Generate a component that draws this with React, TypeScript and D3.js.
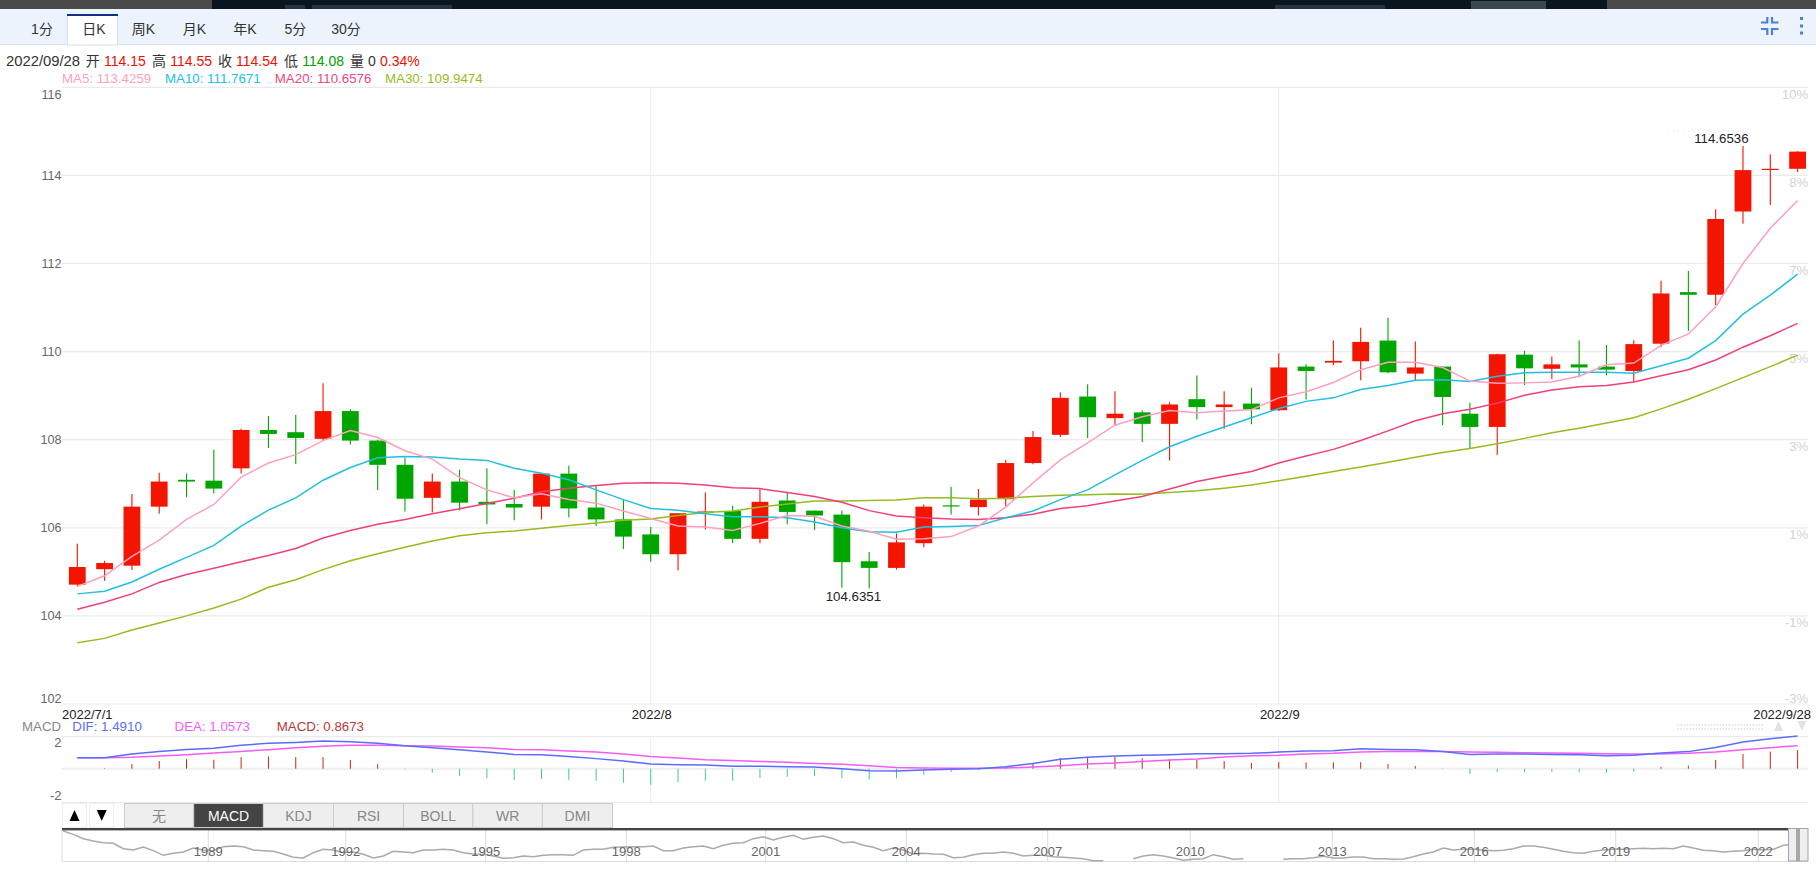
import React from "react";
import * as d3 from "d3";

// ---------- data ----------
const opens = [104.71,105.06,105.14,106.48,107.09,107.07,107.35,108.22,108.17,108.02,108.65,107.98,107.43,106.68,107.05,106.59,106.54,106.48,107.23,106.46,106.19,105.85,105.40,106.35,106.38,105.75,106.62,106.39,106.30,105.24,105.09,105.65,106.51,106.47,106.65,107.47,108.11,108.98,108.49,108.62,108.36,108.92,108.74,108.82,108.67,109.66,109.75,109.78,110.25,109.50,109.66,108.59,108.29,109.93,109.61,109.71,109.66,109.56,110.18,111.35,111.29,113.18,114.13,114.15];
const closes = [105.11,105.20,106.48,107.05,107.05,106.89,108.22,108.13,108.04,108.65,107.98,107.43,106.66,107.05,106.57,106.53,106.46,107.23,106.44,106.19,105.80,105.40,106.33,106.37,105.75,106.59,106.36,106.28,105.22,105.09,105.67,106.48,106.49,106.64,107.47,108.06,108.95,108.51,108.59,108.36,108.80,108.74,108.80,108.69,109.64,109.56,109.79,110.22,109.53,109.64,108.97,108.29,109.94,109.62,109.71,109.64,109.59,110.17,111.32,111.29,113.01,114.12,114.15,114.54];
const highs = [105.64,105.25,106.77,107.25,107.23,107.77,108.25,108.54,108.56,109.28,108.69,108.00,107.59,107.23,107.32,107.35,106.86,107.24,107.41,106.95,106.64,106.02,106.33,106.80,106.50,106.90,106.79,106.39,106.39,105.45,105.87,106.53,106.93,106.88,107.54,108.20,109.08,109.26,109.10,108.67,108.85,109.46,109.10,109.18,109.96,109.71,110.25,110.54,110.77,110.23,109.66,108.84,109.95,110.02,109.89,110.25,110.15,110.26,111.61,111.83,113.23,114.67,114.48,114.55];
const lows = [104.67,104.80,105.04,106.32,106.69,106.78,107.23,107.81,107.45,107.98,107.89,106.86,106.37,106.35,106.39,106.08,106.17,106.19,106.24,106.04,105.52,105.23,105.03,105.96,105.65,105.65,106.08,105.95,104.64,104.62,105.05,105.56,106.30,106.28,106.49,107.44,108.06,108.04,108.33,107.95,107.53,108.46,108.25,108.35,108.65,108.91,109.69,109.35,109.51,109.33,108.33,107.80,107.65,109.24,109.38,109.42,109.46,109.31,110.10,110.47,111.06,112.90,113.33,114.08];

const ma5 = [104.67,104.91,105.35,105.72,106.19,106.53,107.15,107.47,107.66,107.98,108.21,108.05,107.75,107.56,107.14,106.86,106.68,106.77,106.64,106.56,106.38,106.21,106.04,106.02,105.94,106.10,106.28,106.26,106.04,105.92,105.74,105.75,105.80,106.04,106.47,107.02,107.54,107.93,108.33,108.52,108.66,108.61,108.65,108.68,108.95,109.09,109.30,109.59,109.76,109.76,109.64,109.33,109.28,109.29,109.31,109.44,109.70,109.74,110.14,110.40,111.02,112.00,112.80,113.43];
const ma10 = [104.50,104.56,104.77,105.06,105.33,105.60,106.04,106.40,106.68,107.08,107.37,107.59,107.62,107.61,107.56,107.53,107.35,107.24,107.09,106.86,106.64,106.44,106.40,106.32,106.25,106.25,106.23,106.13,106.00,105.91,105.90,106.02,106.03,106.05,106.23,106.38,106.64,106.86,107.20,107.53,107.84,108.08,108.29,108.50,108.71,108.87,108.95,109.14,109.23,109.35,109.36,109.32,109.44,109.52,109.53,109.53,109.53,109.51,109.68,109.85,110.25,110.85,111.28,111.76];
const ma20 = [104.15,104.31,104.50,104.76,104.94,105.08,105.23,105.37,105.53,105.77,105.94,106.08,106.19,106.32,106.43,106.55,106.67,106.82,106.90,106.96,107.01,107.02,107.01,106.97,106.91,106.89,106.80,106.71,106.58,106.39,106.27,106.23,106.20,106.19,106.23,106.31,106.44,106.50,106.61,106.71,106.88,107.05,107.17,107.28,107.47,107.63,107.78,107.98,108.20,108.43,108.59,108.69,108.83,109.01,109.13,109.20,109.23,109.31,109.45,109.59,109.81,110.10,110.36,110.64];
const ma30 = [103.39,103.49,103.68,103.84,104.00,104.18,104.38,104.65,104.82,105.05,105.25,105.41,105.56,105.70,105.82,105.89,105.93,105.99,106.05,106.11,106.17,106.20,106.28,106.35,106.38,106.47,106.54,106.61,106.61,106.62,106.63,106.68,106.68,106.66,106.67,106.71,106.74,106.75,106.77,106.76,106.80,106.84,106.90,106.97,107.07,107.17,107.28,107.38,107.49,107.60,107.71,107.80,107.91,108.03,108.16,108.26,108.38,108.50,108.70,108.92,109.16,109.41,109.66,109.92];

const dif = [0.50,0.50,0.67,0.79,0.88,0.93,1.07,1.16,1.20,1.26,1.23,1.16,1.05,0.96,0.87,0.76,0.65,0.64,0.56,0.46,0.35,0.21,0.18,0.17,0.11,0.11,0.09,0.08,0.00,-0.09,-0.11,-0.06,-0.03,0.00,0.09,0.24,0.43,0.52,0.58,0.61,0.64,0.68,0.68,0.70,0.76,0.81,0.82,0.91,0.88,0.87,0.78,0.65,0.67,0.67,0.65,0.64,0.59,0.61,0.72,0.78,0.97,1.22,1.37,1.49];
const dea = [0.50,0.50,0.52,0.58,0.64,0.72,0.79,0.87,0.96,1.02,1.07,1.07,1.05,1.04,0.99,0.96,0.88,0.87,0.81,0.76,0.67,0.56,0.49,0.41,0.37,0.33,0.29,0.24,0.20,0.14,0.06,0.03,0.02,0.02,0.03,0.08,0.14,0.21,0.26,0.33,0.40,0.44,0.53,0.59,0.61,0.67,0.70,0.76,0.78,0.79,0.78,0.76,0.75,0.73,0.72,0.70,0.68,0.67,0.67,0.70,0.76,0.87,0.96,1.05];
const macd = [0.00,0.02,0.21,0.35,0.43,0.41,0.53,0.56,0.53,0.53,0.40,0.21,-0.03,-0.18,-0.33,-0.44,-0.52,-0.47,-0.52,-0.56,-0.64,-0.73,-0.61,-0.55,-0.55,-0.43,-0.37,-0.33,-0.43,-0.49,-0.44,-0.29,-0.15,-0.05,0.09,0.27,0.49,0.52,0.55,0.47,0.44,0.40,0.35,0.26,0.30,0.29,0.29,0.30,0.21,0.12,0.01,-0.24,-0.15,-0.15,-0.15,-0.15,-0.18,-0.14,0.08,0.14,0.40,0.67,0.78,0.85];

const priceTicks = [116,114,112,110,108,106,104,102];
const pctTicks = ["10%","8%","7%","5%","3%","1%","-1%","-3%"];
const monthLines = [{ i: 21, label: "2022/8" }, { i: 44, label: "2022/9" }];

const navLevels = [90,80,67,60,55,53,37,33,42,31,17,23,27,39,33,31,43,45,43,33,31,29,21,11,9,25,35,33,25,27,20,9,15,29,27,25,33,33,35,33,25,21,20,15,
8,10,15,13,17,19,19,17,33,35,35,41,42,43,43,45,31,31,39,43,45,37,47,53,55,67,73,63,71,77,65,71,75,67,55,57,47,41,31,39,33,21,23,21,
20,10,11,19,23,23,27,23,15,17,17,13,11,9,7,1,1,-3,-3,7,15,19,15,9,2,5,7,19,13,5,7,-1,-3,-1,5,7,7,10,14,9,9,12,12,7,
7,5,6,13,21,27,39,33,35,35,33,31,32,37,45,45,41,35,29,25,23,29,33,35,35,37,38,37,38,37,45,39,32,31,27,29,31,35,33,35,47,51];
const navYears = [1989,1992,1995,1998,2001,2004,2007,2010,2013,2016,2019,2022];
const navYearX = [208.3,345.7,485.7,626.3,765.7,906.3,1047.7,1190.3,1332.3,1474.3,1615.7,1758.3];

const periodTabs = ["1分","日K","周K","月K","年K","5分","30分"];
const periodX = [42,94,143.5,194.4,245,295.4,346];
const indicatorTabs = ["无","MACD","KDJ","RSI","BOLL","WR","DMI"];
const indicatorEdges = [124.5,193.7,263.4,333.5,403.6,472.8,542.4,612.5];

const quote = [
  { t: "2022/09/28", x: 6, c: "#333", s: 14.8 }, { t: "开", x: 85.7, c: "#333", s: 14 }, { t: "114.15", x: 104, c: "#f01000", s: 14 },
  { t: "高", x: 152, c: "#333", s: 14 }, { t: "114.55", x: 170.3, c: "#f01000", s: 14 }, { t: "收", x: 218, c: "#333", s: 14 },
  { t: "114.54", x: 236, c: "#f01000", s: 14 }, { t: "低", x: 284, c: "#333", s: 14 }, { t: "114.08", x: 302.3, c: "#00a000", s: 14 },
  { t: "量", x: 350, c: "#333", s: 14 }, { t: "0", x: 368, c: "#333", s: 14 }, { t: "0.34%", x: 380, c: "#f01000", s: 14 },
];
const maLegend = [
  { t: "MA5: 113.4259", x: 62, c: "#ff9fbf" }, { t: "MA10: 111.7671", x: 165, c: "#22bfe0" },
  { t: "MA20: 110.6576", x: 274.8, c: "#f0487f" }, { t: "MA30: 109.9474", x: 385, c: "#94bd1c" },
];
const macdLegend = [
  { t: "MACD", x: 22, c: "#888" }, { t: "DIF: 1.4910", x: 72.3, c: "#5a6cff" },
  { t: "DEA: 1.0573", x: 174.6, c: "#f55cf5" }, { t: "MACD: 0.8673", x: 276.8, c: "#b8393a" },
];

// ---------- layout ----------
const FONT = '"Liberation Sans", Arial, "Noto Sans CJK SC", sans-serif';
const RED = "#f31500";
const GREEN = "#00a600";
const GRID = "#ebebeb";
const L = 61.5, R = 1808.5;

const x = d3.scaleLinear().domain([0, 63]).range([77.3, 1797.6]);
const y = d3.scaleLinear().domain([116, 102]).range([87.3, 704]);
const my = d3.scaleLinear().domain([1, -1]).range([768.7 - 21.9, 768.7 + 21.9]);
const navX = d3.scaleLinear().domain([0, 173]).range([63.3, 1793.3]);
const navY = d3.scaleLinear().domain([0, 96]).range([861, 829]);

const priceLine = d3.line<number>().x((_, i) => x(i)).y((v) => y(v));
const macdLine = d3.line<number>().x((_, i) => x(i)).y((v) => my(v));
const navLine = d3.line<number>().x((_, i) => navX(i)).y((v) => navY(v)).defined((v) => v > 0);

const CANDLE_W = 16.8;

export default function App() {
  return (
    <svg
      width={1816}
      height={886}
      viewBox="0 0 1816 886"
      style={{ position: "absolute", left: 0, top: 0, display: "block", background: "#fff" }}
      fontFamily={FONT}
    >
      {/* top page strip */}
      <rect x={0} y={0} width={1816} height={9} fill="#4a4a4a" />
      <rect x={212} y={0} width={1395} height={9} fill="#0a1520" />
      <g fill="#26333f">
        <rect x={285} y={5} width={20} height={4} />
        <rect x={312} y={5} width={140} height={4} />
        <rect x={1275} y={5} width={110} height={4} />
      </g>
      <rect x={1471} y={1} width={75} height={8} fill="#3a4650" />
      {/* toolbar */}
      <rect x={0} y={9} width={1816} height={35.5} fill="#ecf3fd" />
      <line x1={0} x2={1816} y1={44.5} y2={44.5} stroke="#d6e0f0" />
      <rect x={67.5} y={15} width={50} height={30} fill="#fff" stroke="#d6e0f0" />
      <rect x={67} y={14} width={51} height={2} fill="#0f2f88" />
      {periodTabs.map((t, i) => (
        <text key={t} x={periodX[i]} y={34} textAnchor="middle" fontSize={14} fill="#333">{t}</text>
      ))}
      {/* right icons */}
      <g stroke="#4a80d8" strokeWidth={2.2} fill="none">
        <path d="M1761 22.5H1767.3V17M1772 17V22.5H1778.5" />
        <path d="M1761 29H1767.3V35M1772 35V29H1778.5" />
      </g>
      <g fill="#4a80d8">
        <rect x={1800} y={17} width={3} height={3} />
        <rect x={1800} y={24.5} width={3} height={3} />
        <rect x={1800} y={31.5} width={3} height={3} />
      </g>

      {/* quote line */}
      {quote.map((q) => (
        <text key={q.t + q.x} x={q.x} y={65.5} fontSize={q.s} fill={q.c}>{q.t}</text>
      ))}
      {maLegend.map((q) => (
        <text key={q.t} x={q.x} y={82.8} fontSize={13.3} fill={q.c}>{q.t}</text>
      ))}

      {/* price grid */}
      {priceTicks.map((v) => (
        <line key={v} x1={L} x2={R} y1={y(v)} y2={y(v)} stroke={GRID} strokeWidth={1.2} />
      ))}
      {monthLines.map((m) => (
        <g key={m.i}>
          <line x1={x(m.i)} x2={x(m.i)} y1={87.3} y2={704} stroke={GRID} />
          <line x1={x(m.i)} x2={x(m.i)} y1={736.7} y2={802.3} stroke={GRID} />
          <text x={x(m.i) + 1} y={719} textAnchor="middle" fontSize={13} fill="#222">{m.label}</text>
        </g>
      ))}
      {priceTicks.map((v) => (
        <text key={v} x={61.5} y={Math.min(Math.max(y(v), 94), 698) + 4.5} textAnchor="end" fontSize={12.6} fill="#666">{v}</text>
      ))}
      {pctTicks.map((p, i) => {
        const py = y(priceTicks[i]);
        return (
          <text key={p} x={1808} y={(i === pctTicks.length - 1 ? py - 6 : py + 6.7) + 4.5} textAnchor="end" fontSize={13} fill="#d2d2d2">{p}</text>
        );
      })}

      {/* candles */}
      {opens.map((o, i) => {
        const c = closes[i];
        const col = c >= o && !(o === c) ? RED : GREEN;
        const top = Math.min(y(o), y(c));
        const h = Math.max(Math.abs(y(o) - y(c)), 1.2);
        return (
          <g key={i}>
            <line x1={x(i)} x2={x(i)} y1={y(highs[i])} y2={y(lows[i])} stroke={col} strokeWidth={1.1} />
            <rect x={x(i) - CANDLE_W / 2} y={top} width={CANDLE_W} height={h} fill={col} />
          </g>
        );
      })}

      {/* moving averages */}
      <path d={priceLine(ma30)!} fill="none" stroke="#94bd1c" strokeWidth={1.5} />
      <path d={priceLine(ma20)!} fill="none" stroke="#f0407c" strokeWidth={1.5} />
      <path d={priceLine(ma10)!} fill="none" stroke="#22bfe0" strokeWidth={1.5} />
      <path d={priceLine(ma5)!} fill="none" stroke="#ff9fbf" strokeWidth={1.5} />

      {/* extreme labels */}
      <text x={853.4} y={600.5} textAnchor="middle" fontSize={13.3} fill="#222">104.6351</text>
      <text x={1721.4} y={142.8} textAnchor="middle" fontSize={13.3} fill="#222">114.6536</text>
      <line x1={1668} x2={1746} y1={131} y2={131} stroke="#e2e2e2" strokeDasharray="1 4" />

      {/* date labels */}
      <text x={62} y={719} fontSize={13} fill="#222">2022/7/1</text>
      <text x={1811} y={719} textAnchor="end" fontSize={13} fill="#222">2022/9/28</text>

      {/* MACD panel */}
      {macdLegend.map((q) => (
        <text key={q.t} x={q.x} y={731} fontSize={13.3} fill={q.c}>{q.t}</text>
      ))}
      <line x1={L} x2={R} y1={736.7} y2={736.7} stroke={GRID} strokeWidth={1.2} />
      <line x1={L} x2={R} y1={802.5} y2={802.5} stroke={GRID} strokeWidth={1.2} />
      <line x1={L} x2={R} y1={my(0)} y2={my(0)} stroke="#eeeeee" strokeWidth={2} />
      <text x={61.5} y={746.8} textAnchor="end" fontSize={13} fill="#666">2</text>
      <text x={61.5} y={800.2} textAnchor="end" fontSize={13} fill="#666">-2</text>
      {macd.map((v, i) => (
        <line key={i} x1={x(i)} x2={x(i)} y1={my(0)} y2={my(v)} stroke={v >= 0 ? "#c22a10" : "#3cc8a0"} strokeWidth={1} />
      ))}
      <path d={macdLine(dea)!} fill="none" stroke="#f55cf5" strokeWidth={1.5} />
      <path d={macdLine(dif)!} fill="none" stroke="#5a6cff" strokeWidth={1.5} />

      {/* faint dotted control and arrows */}
      <line x1={1677.5} x2={1764} y1={725} y2={725} stroke="#dcdcdc" strokeWidth={1.5} strokeDasharray="1.5 1.5" />
      <line x1={1677.5} x2={1764} y1={729} y2={729} stroke="#dcdcdc" strokeWidth={1.5} strokeDasharray="1.5 1.5" />
      <path d="M1778.5 721L1783 731H1774Z" fill="#e2e2e2" />
      <path d="M1802 731L1806.5 721H1797.5Z" fill="#e2e2e2" />

      {/* arrow buttons */}
      <rect x={62.5} y={803.5} width={24} height={24} fill="#fff" stroke="#eee" />
      <rect x={89.7} y={803.5} width={24} height={24} fill="#fff" stroke="#eee" />
      <path d="M74.5 810L79.5 821H69.5Z" fill="#000" />
      <path d="M101.7 821L106.7 810H96.7Z" fill="#000" />

      {/* indicator tabs */}
      {indicatorTabs.map((t, i) => {
        const active = t === "MACD";
        const x0 = indicatorEdges[i];
        const x1 = indicatorEdges[i + 1];
        return (
          <g key={t}>
            <rect x={x0} y={803.5} width={x1 - x0} height={24} fill={active ? "#444" : "#eee"} stroke="#ccc" />
            <text x={(x0 + x1) / 2} y={820.5} textAnchor="middle" fontSize={14} fill={active ? "#fff" : "#888"}>{t}</text>
          </g>
        );
      })}

      {/* navigator */}
      <line x1={62} x2={62} y1={830} y2={861} stroke="#ddd" />
      <line x1={62} x2={1808} y1={861.5} y2={861.5} stroke="#ddd" strokeWidth={1.2} />
      {navYearX.map((nx) => (
        <line key={nx} x1={nx} x2={nx} y1={830} y2={861} stroke="#ddd" />
      ))}
      <path d={navLine(navLevels)!} fill="none" stroke="#aaa" strokeWidth={1.5} />
      {navYears.map((yr, i) => (
        <text key={yr} x={navYearX[i]} y={855.5} textAnchor="middle" fontSize={13} fill="#666">{yr}</text>
      ))}
      <rect x={62} y={828} width={1746} height={2.4} fill="#444" />
      <rect x={1788.5} y={828.5} width={19.5} height={32.5} fill="#eee" stroke="#9aa5b8" />
      <rect x={1796} y={829} width={4} height={32} fill="#a8a8a8" />
    </svg>
  );
}
